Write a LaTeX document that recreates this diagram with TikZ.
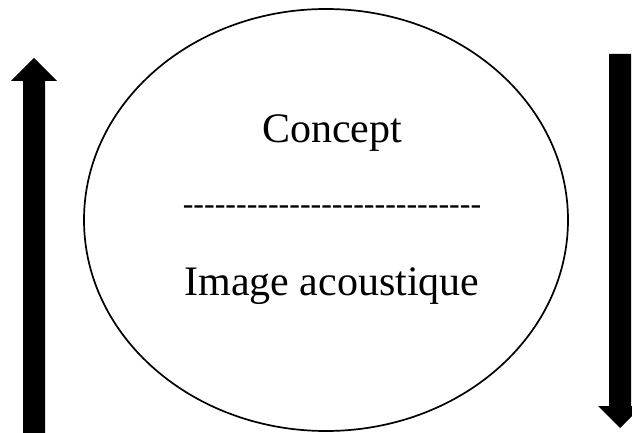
\documentclass[tikz,border=0pt]{standalone}
\usepackage{fontspec}
\setmainfont{Liberation Serif}
\tikzset{
  bigarrow/.style={fill=black, draw=none},
  sign/.style={draw=black, line width=1.7pt},
  label/.style={font=\fontsize{42}{48}\selectfont, inner sep=0pt, anchor=base},
  rule/.style={font=\fontsize{32}{36}\selectfont, inner sep=0pt, anchor=base}
}
% a hyphen that never merges into an en or em dash
\newcommand{\hy}{-\kern0pt}
\begin{document}
\begin{tikzpicture}[x=1pt, y=-1pt]
  \useasboundingbox (0,0) rectangle (632,433);
  % the sign: concept over acoustic image
  \draw[sign] (326,220) ellipse [x radius=242, y radius=211];
  \node[label] (concept) at (332,143) {Concept};
  \node[rule] (bar) at (332,214) {\hy\hy\hy\hy\hy\hy\hy\hy\hy\hy\hy\hy\hy\hy\hy\hy\hy\hy\hy\hy\hy\hy\hy\hy\hy\hy\hy\hy};
  \node[label] (image) at (332,295) {Image acoustique};
  % upward arrow on the left
  \fill[bigarrow] (23,433) -- (23,81) -- (11,81) -- (34,58) -- (57,81) -- (45,81) -- (45,433) -- cycle;
  % downward arrow on the right
  \fill[bigarrow] (609,54) -- (609,406) -- (598,406) -- (620,428) -- (642,406) -- (631,406) -- (631,54) -- cycle;
\end{tikzpicture}
\end{document}
